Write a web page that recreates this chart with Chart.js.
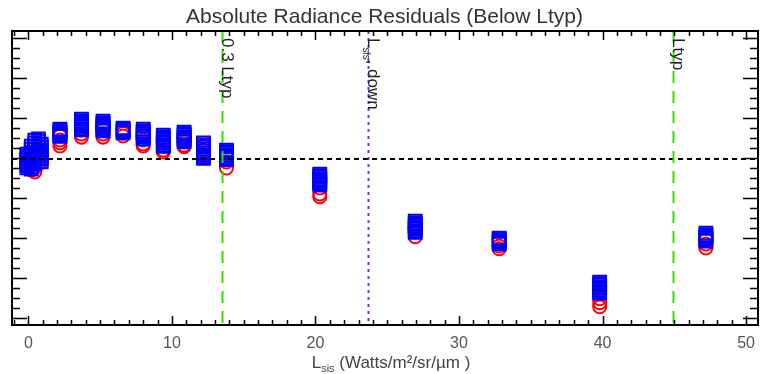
<!DOCTYPE html>
<html>
<head>
<meta charset="utf-8">
<script src="https://cdn.jsdelivr.net/npm/chart.js@4.4.1/dist/chart.umd.min.js"></script>
<style>
  html, body { margin: 0; padding: 0; background: #fff; }
  #wrap { width: 769px; height: 374px; }
</style>
</head>
<body>
<div id="wrap"><canvas id="resChart" width="769" height="374"></canvas></div>
<script>
// radiance levels (Lsis) and the residuals read at each level
const lsisLevels = [-0.1, 0.2, 0.45, 0.7, 0.9, 2.2, 3.7, 5.2, 6.6, 8.0, 9.4, 10.85, 12.2, 13.8, 20.3, 26.95, 32.8, 39.8, 47.2];

const blueResiduals = [
  [0.1, 0.05, 0.0, -0.05, -0.1, -0.15, -0.2, -0.25],
  [0.3, 0.22, 0.15, 0.08, 0.0, -0.08, -0.15, -0.22, -0.28],
  [0.45, 0.38, 0.3, 0.22, 0.15, 0.08, 0.0, -0.08, -0.15],
  [0.48, 0.42, 0.35, 0.28, 0.2, 0.12, 0.05, -0.02],
  [0.35, 0.28, 0.2, 0.12, 0.05, -0.02, -0.1],
  [0.72, 0.69, 0.66, 0.63, 0.6, 0.57, 0.54],
  [0.97, 0.93, 0.89, 0.85, 0.81, 0.77, 0.73, 0.7],
  [0.92, 0.88, 0.84, 0.8, 0.76, 0.72, 0.68],
  [0.75, 0.72, 0.69, 0.66, 0.63],
  [0.72, 0.68, 0.64, 0.6, 0.56, 0.52, 0.48],
  [0.57, 0.53, 0.49, 0.45, 0.41, 0.37, 0.33, 0.29],
  [0.65, 0.61, 0.57, 0.53, 0.49, 0.45, 0.41],
  [0.38, 0.33, 0.28, 0.23, 0.18, 0.13, 0.08, 0.03, -0.01],
  [0.2, 0.16, 0.12, 0.08, 0.04, 0.0, -0.04],
  [-0.4, -0.44, -0.48, -0.52, -0.56, -0.6, -0.64, -0.68],
  [-1.58, -1.62, -1.66, -1.7, -1.74, -1.78, -1.82, -1.86],
  [-2.0, -2.03, -2.06, -2.09, -2.12, -2.15],
  [-3.1, -3.14, -3.18, -3.22, -3.26, -3.3, -3.34, -3.38],
  [-1.88, -1.92, -1.96, -2.0, -2.04, -2.08]
];

const redResiduals = [
  [-0.1, -0.22],
  [-0.2, -0.3],
  [0.0, -0.25, -0.35],
  [0.2, 0.0, -0.15],
  [0.1, -0.1],
  [0.55, 0.45, 0.38, 0.3],
  [0.85, 0.7, 0.6, 0.52],
  [0.8, 0.7, 0.6, 0.52],
  [0.72, 0.62, 0.55],
  [0.55, 0.45, 0.35, 0.3],
  [0.4, 0.3, 0.2, 0.15],
  [0.5, 0.4, 0.32, 0.28],
  [0.3, 0.2, 0.1, 0.05],
  [0.05, -0.1, -0.25],
  [-0.6, -0.75, -0.9, -0.97],
  [-1.75, -1.85, -1.97],
  [-2.1, -2.2, -2.27],
  [-3.4, -3.52, -3.62, -3.72],
  [-2.05, -2.15, -2.25]
];

const xTickLabels = [0, 10, 20, 30, 40, 50];

// vertical reference lines
const refLineX = [13.47, 23.67, 44.9];
const refLineLabels = [["0.3 Ltyp"], ["L", "sis", ", down"], ["Ltyp"]];
const refLineColors = ["#33e000", "#7b2cf0", "#33e000"];
const refLineDash = [[12, 8], [3, 4], [12, 8]];

const toPoints = (series) =>
  series.flatMap((vals, i) => vals.map(v => ({ x: lsisLevels[i], y: v })));

const FONT = "'Liberation Sans', Arial, Helvetica, sans-serif";

// draws text with an optional subscript part: parts = [main, sub, rest]
function drawSubText(ctx, parts, size, subSize) {
  let x = 0;
  ctx.font = size + "px " + FONT;
  ctx.fillText(parts[0], x, 0);
  x += ctx.measureText(parts[0]).width;
  if (parts.length > 1) {
    ctx.font = subSize + "px " + FONT;
    ctx.fillText(parts[1], x, size * 0.25);
    x += ctx.measureText(parts[1]).width;
    ctx.font = size + "px " + FONT;
    ctx.fillText(parts[2], x, 0);
    x += ctx.measureText(parts[2]).width;
  }
  return x;
}

function measureSubText(ctx, parts, size, subSize) {
  ctx.font = size + "px " + FONT;
  let w = ctx.measureText(parts[0]).width;
  if (parts.length > 1) {
    w += ctx.measureText(parts[2]).width;
    ctx.font = subSize + "px " + FONT;
    w += ctx.measureText(parts[1]).width;
  }
  return w;
}

const overlayPlugin = {
  id: "overlay",
  afterDatasetsDraw(chart) {
    const { ctx, chartArea: a, scales: { x, y } } = chart;
    ctx.save();
    // zero line
    const y0 = Math.round(y.getPixelForValue(0)) + 1;
    ctx.strokeStyle = "#000";
    ctx.lineWidth = 2;
    ctx.setLineDash([5, 4]);
    ctx.beginPath();
    ctx.moveTo(a.left, y0);
    ctx.lineTo(a.right, y0);
    ctx.stroke();

    // vertical lines and their labels
    refLineX.forEach((v, i) => {
      const px = Math.round(x.getPixelForValue(v)) + 0.5;
      ctx.strokeStyle = refLineColors[i];
      ctx.lineWidth = 2;
      ctx.setLineDash(refLineDash[i]);
      ctx.beginPath();
      ctx.moveTo(px, a.top);
      ctx.lineTo(px, a.bottom);
      ctx.stroke();

      ctx.save();
      ctx.setLineDash([]);
      ctx.fillStyle = "#222";
      ctx.textBaseline = "alphabetic";
      ctx.translate(px - 1, a.top + 7);
      ctx.rotate(Math.PI / 2);
      drawSubText(ctx, refLineLabels[i], 17, 10);
      ctx.restore();
    });
    ctx.restore();
  },
  afterDraw(chart) {
    const { ctx, chartArea: a, scales: { x, y } } = chart;
    ctx.save();
    ctx.strokeStyle = "#000";
    ctx.lineWidth = 2;
    ctx.setLineDash([]);
    ctx.strokeRect(a.left, a.top, a.right - a.left, a.bottom - a.top);

    // inward tick marks
    ctx.lineWidth = 1.5;
    ctx.beginPath();
    for (let v = -1; v <= 50; v++) {
      const px = Math.round(x.getPixelForValue(v)) + 0.5;
      const len = v % 10 === 0 ? 9 : 5;
      ctx.moveTo(px, a.bottom);
      ctx.lineTo(px, a.bottom - len);
      ctx.moveTo(px, a.top);
      ctx.lineTo(px, a.top + len);
    }
    for (let k = -16; k <= 12; k++) {
      const py = Math.round(y.getPixelForValue(k / 4)) + 0.5;
      const len = k % 4 === 0 ? 15 : 8;
      ctx.moveTo(a.left, py);
      ctx.lineTo(a.left + len, py);
      ctx.moveTo(a.right, py);
      ctx.lineTo(a.right - len, py);
    }
    ctx.stroke();

    // title
    ctx.fillStyle = "#333";
    ctx.textAlign = "center";
    ctx.textBaseline = "alphabetic";
    ctx.font = "21px " + FONT;
    ctx.fillText("Absolute Radiance Residuals (Below Ltyp)", chart.width / 2, 23);

    // x-axis title with subscript
    ctx.textAlign = "left";
    ctx.fillStyle = "#444";
    const parts = ["L", "sis", " (Watts/m\u00b2/sr/\u00b5m )"];
    const w = measureSubText(ctx, parts, 17, 11);
    ctx.translate(391 - w / 2, 368);
    drawSubText(ctx, parts, 17, 11);
    ctx.restore();
  }
};

const ctx = document.getElementById("resChart").getContext("2d");
new Chart(ctx, {
  type: "scatter",
  data: {
    datasets: [
      {
        label: "blue",
        data: toPoints(blueResiduals),
        pointStyle: "rect",
        pointRadius: 9,
        borderColor: "#0000ff",
        backgroundColor: "rgba(0,0,0,0)",
        borderWidth: 2
      },
      {
        label: "red",
        data: toPoints(redResiduals),
        pointStyle: "circle",
        pointRadius: 6.5,
        borderColor: "#ff0000",
        backgroundColor: "rgba(0,0,0,0)",
        borderWidth: 2
      }
    ]
  },
  options: {
    responsive: false,
    devicePixelRatio: 1,
    animation: false,
    events: [],
    layout: { padding: { left: 12, right: 3, top: 31, bottom: 0 } },
    plugins: {
      legend: { display: false },
      title: { display: false },
      tooltip: { enabled: false }
    },
    scales: {
      x: {
        type: "linear",
        min: -1.14,
        max: 50.83,
        afterBuildTicks: (scale) => { scale.ticks = xTickLabels.map(v => ({ value: v })); },
        afterFit: (scale) => { scale.height = 49; },
        grid: { display: false, drawTicks: false },
        border: { display: false },
        ticks: {
          padding: 9,
          color: "#555",
          font: { family: FONT, size: 16 },
          maxRotation: 0
        }
      },
      y: {
        display: false,
        min: -4.175,
        max: 3.175
      }
    }
  },
  plugins: [overlayPlugin]
});
</script>
</body>
</html>
